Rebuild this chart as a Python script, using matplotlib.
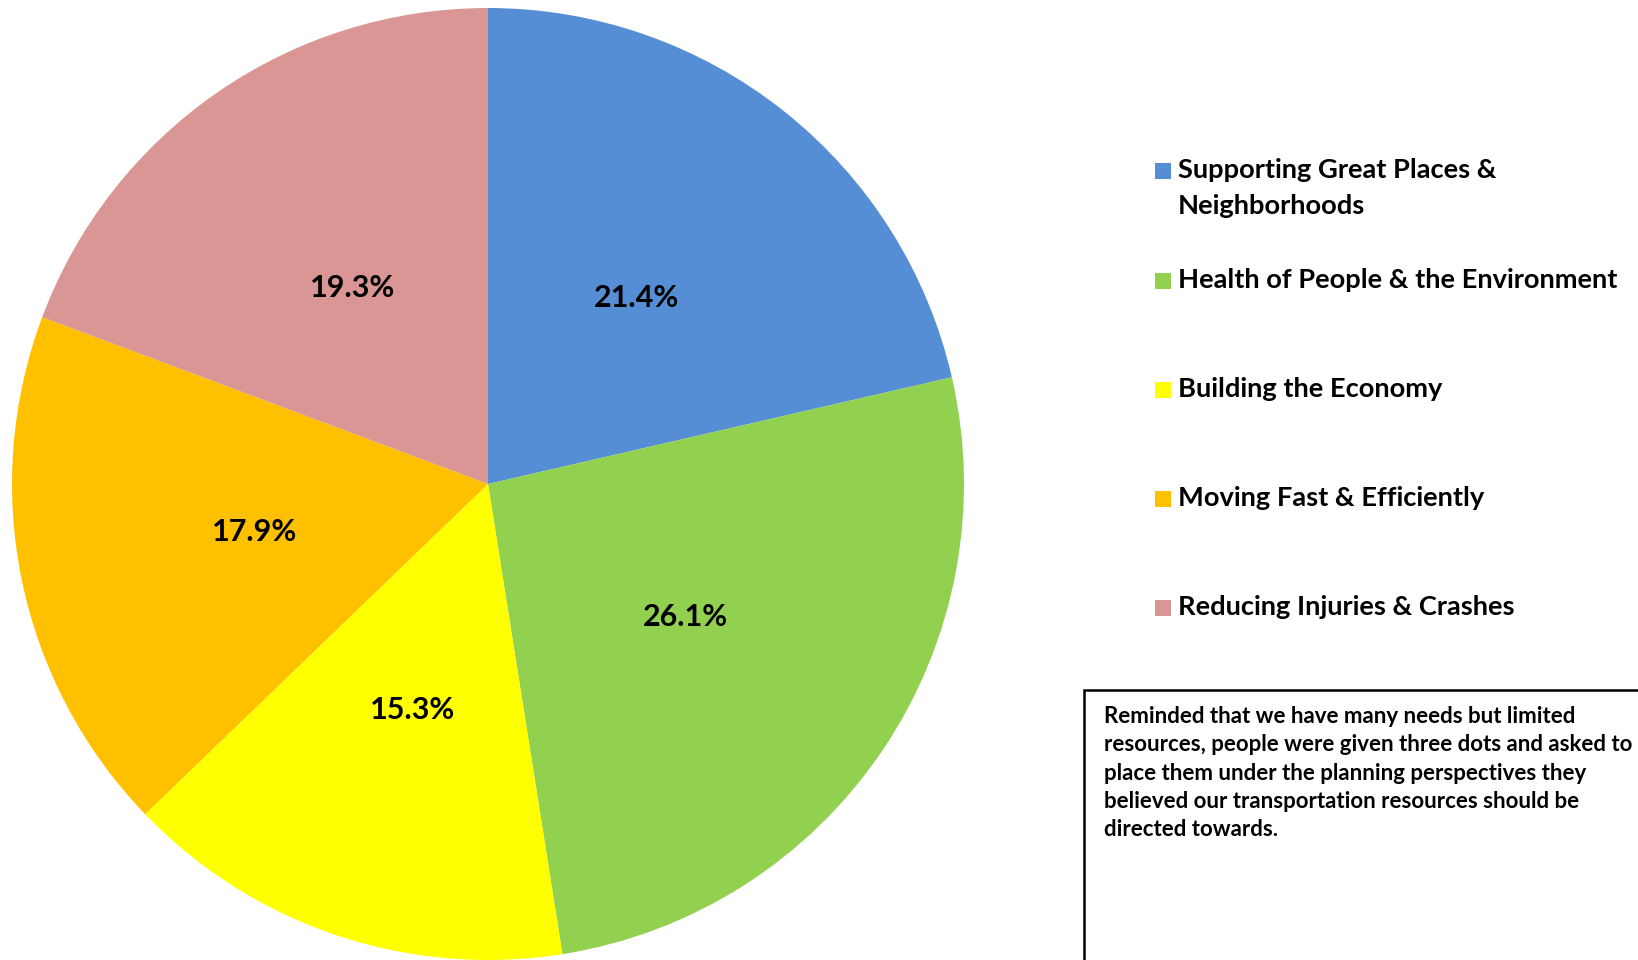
import matplotlib
matplotlib.use("Agg")
import matplotlib.pyplot as plt
from matplotlib.patches import Rectangle

categories = ["Supporting Great Places &\nNeighborhoods",
              "Health of People & the Environment",
              "Building the Economy",
              "Moving Fast & Efficiently",
              "Reducing Injuries & Crashes"]
shares = [21.4, 26.1, 15.3, 17.9, 19.3]
colors = ["#558ED5", "#92D050", "#FFFF00", "#FFC000", "#D99694"]
note = ("Reminded that we have many needs but limited\n"
        "resources, people were given three dots and asked to\n"
        "place them under the planning perspectives they\n"
        "believed our transportation resources should be\n"
        "directed towards.")

plt.rcParams["font.family"] = ["Lato", "DejaVu Sans"]
plt.rcParams["font.weight"] = "bold"

W, H = 1638, 960
fig = plt.figure(figsize=(W / 100, H / 100), dpi=100)

# pie area, square in pixels
ax = fig.add_axes([12 / W, 0 / H, 952 / W, 952 / H])
wedges, texts, autotexts = ax.pie(shares, colors=colors, startangle=90, counterclock=False,
                                  autopct="%.1f%%", pctdistance=0.5, radius=1,
                                  wedgeprops={"linewidth": 0},
                                  textprops={"fontsize": 22, "fontweight": "bold", "color": "black"})
ax.set_xlim(-1, 1)
ax.set_ylim(-1, 1)
ax.set_aspect("equal")
ax.axis("off")

# legend, drawn by hand
ys = [171, 281, 390, 499, 608]
for lab, col, y in zip(categories, colors, ys):
    fig.patches.append(Rectangle(((1155) / W, 1 - (y + 8) / H), 16 / W, 16 / H,
                                 transform=fig.transFigure, facecolor=col, edgecolor="none"))
    fig.text(1178 / W, 1 - (y - 13) / H, lab, fontsize=19.6, fontweight="bold",
             va="top", ha="left", linespacing=1.62)

# note box
fig.patches.append(Rectangle((1084 / W, -0.05), 0.5, 1 - 690 / H + 0.05,
                             transform=fig.transFigure, facecolor="none",
                             edgecolor="black", linewidth=1.8))
fig.text(1104 / W, 1 - 706 / H, note, fontsize=16, fontweight="bold",
         va="top", ha="left", linespacing=1.43)

fig.savefig("out.png", dpi=100)
